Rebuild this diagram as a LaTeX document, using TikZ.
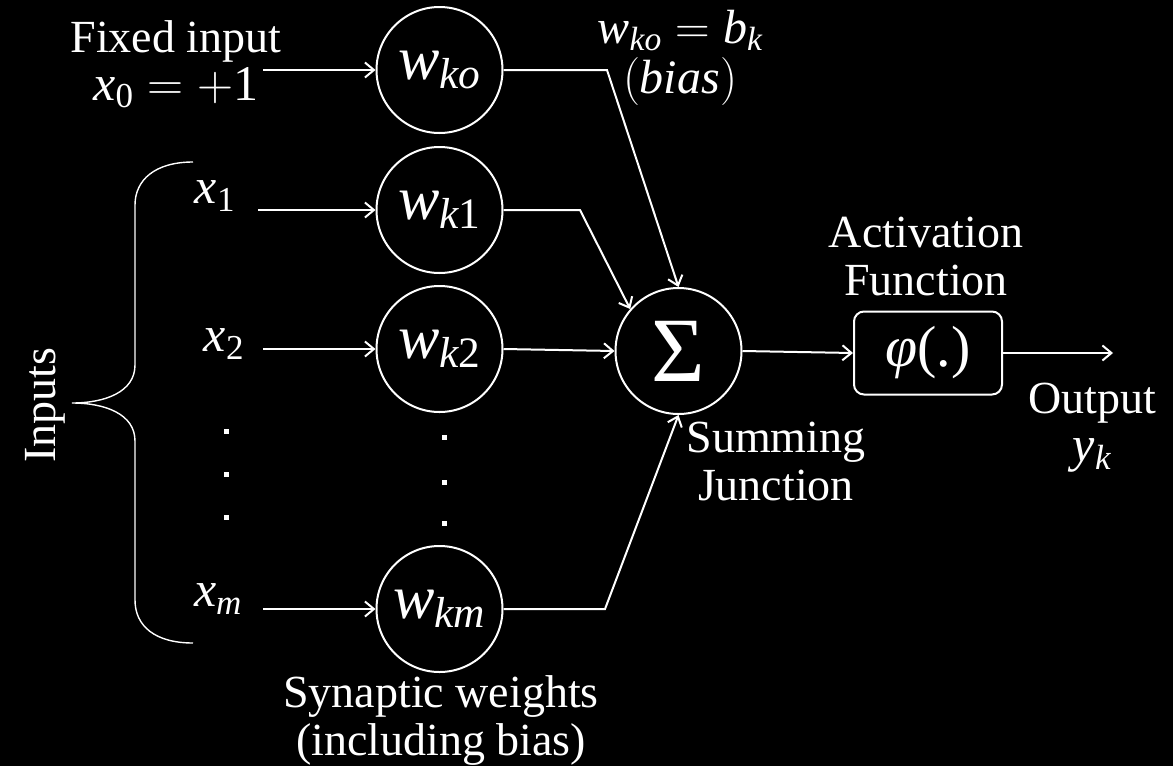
\RequirePackage{fix-cm}
\documentclass[tikz,border=0pt]{standalone}
\usepackage{fontspec}
\setmainfont{Liberation Serif}
\usetikzlibrary{arrows.meta}
\newcommand{\vi}[1]{\mathit{#1}}
\newcommand{\vr}[1]{\mathrm{#1}}
\begin{document}
\begin{tikzpicture}[x=1pt,y=-1pt]
\tikzset{
  wnode/.style={circle, draw=white, line width=2pt, minimum size=126pt, inner sep=0pt, text=white, font=\fontsize{62}{66}\selectfont},
  lbl/.style={text=white, align=center, font=\fontsize{46}{48}\selectfont, inner sep=0pt},
  mlbl/.style={text=white, align=center, font=\fontsize{50}{50}\selectfont, inner sep=0pt},
  conn/.style={draw=white, line width=2pt, -{Straight Barb[length=9pt,width=15pt,line width=2pt]}},
  bracestyle/.style={draw=white, line width=1.4pt},
}
\fill[black] (0,0) rectangle (1173,766);
\useasboundingbox (0,0) rectangle (1173,766);

% weight nodes
\node[wnode] (wko) at (439.5,70) {$\vi{w}_{\vi{ko}}$};
\node[wnode] (wk1) at (439.5,210) {$\vi{w}_{\vi{k}\vr{1}}$};
\node[wnode] (wk2) at (439.5,349) {$\vi{w}_{\vi{k}\vr{2}}$};
\node[wnode] (wkm) at (439.5,609) {$\vi{w}_{\vi{km}}$};

% summing junction
\node[circle, draw=white, line width=2pt, minimum size=126pt, inner sep=0pt, text=white, font=\fontsize{92}{96}\selectfont] (sig) at (678.5,351) {Σ};

% activation box
\node[draw=white, line width=2pt, rounded corners=10pt, minimum width=148pt, minimum height=83pt, inner sep=0pt, text=white, font=\fontsize{58}{60}\selectfont] (phi) at (928,353) {\textit{φ}(.)};

% labels
\node[lbl] (fixed) at (176,64) {Fixed input\\{\fontsize{50}{50}\selectfont$\vi{x}_{\vr{0}}=+\vr{1}$}};
\node[mlbl] (x1) at (215,196) {$\vi{x}_{\vr{1}}$};
\node[mlbl] (x2) at (224,344) {$\vi{x}_{\vr{2}}$};
\node[mlbl] (xm) at (218,599) {$\vi{x}_{\vi{m}}$};
\node[text=white, align=center, inner sep=0pt, font=\fontsize{48}{50}\selectfont] (bias) at (680,58) {$\vi{w}_{\vi{ko}}=\vi{b}_{\vi{k}}$\\$(\vi{bias})$};
\node[lbl] (act) at (926,256) {Activation\\Function};
\node[lbl] (sum) at (776,461) {Summing\\Junction};
\node[lbl] (out) at (1092,428) {Output\\{\fontsize{50}{50}\selectfont$\vi{y}_{\vi{k}}$}};
\node[lbl] (syn) at (441,720) {Synaptic weights\\(including bias)};
\node[lbl, rotate=90] (inputs) at (45,405) {Inputs};

% free ends
\coordinate (i0) at (263,70);
\coordinate (i1) at (258,210);
\coordinate (i2) at (263,349);
\coordinate (im) at (263,609);
\coordinate (b0) at (607,70);
\coordinate (b1) at (580,210);
\coordinate (bm) at (605,609);
\coordinate (oend) at (1113,353);

% input arrows
\draw[conn] (i0) -- (wko.west);
\draw[conn] (i1) -- (wk1.west);
\draw[conn] (i2) -- (wk2.west);
\draw[conn] (im) -- (wkm.west);

% weight to sum
\draw[conn] (wko.east) -- (b0) -- (sig.north);
\draw[conn] (wk1.east) -- (b1) -- (sig.139);
\draw[conn] (wk2.east) -- (sig.west);
\draw[conn] (wkm.east) -- (bm) -- (sig.south);

% sum to activation to output
\draw[conn] (sig.east) -- (phi.west);
\draw[conn] (phi.east) -- (oend);

% brace
\draw[bracestyle] (193,162) .. controls (155,162) and (135,180) .. (135,205)
  -- (135,365) .. controls (135,392) and (105,403) .. (72,403)
  .. controls (105,403) and (135,414) .. (135,441)
  -- (135,600) .. controls (135,626) and (155,643) .. (193,643);

% dots
\foreach \y in {431,474,517} \fill[white] (223.5,\y-2.5) rectangle ++(5,5);
\foreach \y in {437,482,523} \fill[white] (441.5,\y-2.5) rectangle ++(5,5);
\end{tikzpicture}
\end{document}
